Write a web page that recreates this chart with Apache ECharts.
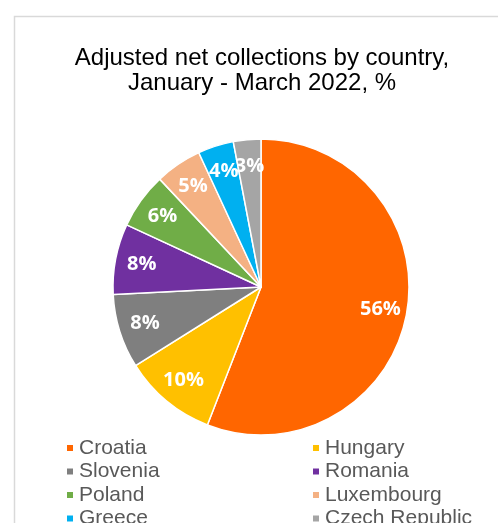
<!DOCTYPE html>
<html>
<head>
<meta charset="utf-8">
<script src="https://cdn.jsdelivr.net/npm/echarts@6/dist/echarts.min.js"></script>
<style>
html,body{margin:0;padding:0;background:#fff;}
#c{width:498px;height:523px;}
</style>
</head>
<body>
<div id="c"></div>
<script>
const countries = ['Croatia','Hungary','Slovenia','Romania','Poland','Luxembourg','Greece','Czech Republic'];
const shares = [55.9, 10.2, 8.1, 7.7, 6.1, 5.1, 3.9, 3.0];
const colors = ['#FF6600','#FFC000','#7F7F7F','#7030A0','#70AD47','#F4B183','#00B0F0','#A5A5A5'];
const leftCol = ['Croatia','Slovenia','Poland','Greece'];
const rightCol = ['Hungary','Romania','Luxembourg','Czech Republic'];

const data = countries.map((n,i)=>({name:n, value:shares[i], itemStyle:{color:colors[i]}}));
const labelData = countries.map((n,i)=>({name:n, value:shares[i]}));

const chart = echarts.init(document.getElementById('c'));
const legendCommon = {
  orient:'vertical', top:437.5, height:200, padding:0, itemGap:2.5,
  itemWidth:8, itemHeight:8, icon:'rect',
  textStyle:{fontFamily:'Liberation Sans, Arial', fontSize:21, color:'#595959', lineHeight:21}
};
chart.setOption({
  animation:false,
  title:{
    text:'Adjusted net collections by country,\nJanuary - March 2022, %',
    left:257, top:41, textAlign:'center',
    textStyle:{fontFamily:'Liberation Sans, Arial', fontSize:24, fontWeight:'normal', color:'#000', lineHeight:25}
  },
  graphic:[{type:'rect', shape:{x:14.5,y:16.5,width:700,height:700}, style:{fill:'none', stroke:'#D9D9D9', lineWidth:1.5}, silent:true}],
  legend:[
    Object.assign({left:65, data:leftCol}, legendCommon),
    Object.assign({left:311, data:rightCol}, legendCommon)
  ],
  series:[
    {
      type:'pie', center:[261,287], radius:[0,148], startAngle:90, clockwise:true,
      data:data, label:{show:false}, labelLine:{show:false},
      itemStyle:{borderColor:'#fff', borderWidth:1.5},
      emphasis:{scale:false}
    },
    {
      type:'pie', center:[261,287], radius:[89,148], startAngle:90, clockwise:true, silent:true,
      avoidLabelOverlap:false, minShowLabelAngle:0,
      labelLayout:{hideOverlap:false},
      data:labelData,
      itemStyle:{color:'rgba(0,0,0,0)'},
      label:{show:true, position:'inside', formatter:(p)=>Math.round(p.value)+'%', color:'#fff', fontFamily:'Open Sans', fontWeight:'bold', fontSize:20},
      labelLine:{show:false}, emphasis:{disabled:true}
    }
  ]
});
</script>
</body>
</html>
